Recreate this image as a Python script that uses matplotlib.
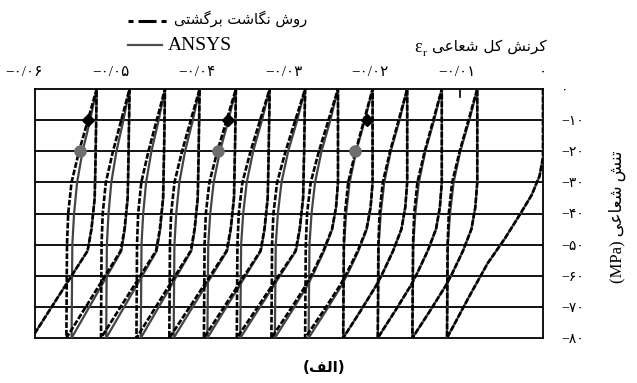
import numpy as np
import matplotlib
matplotlib.use('Agg')
import matplotlib.pyplot as plt
from matplotlib.lines import Line2D

# ---------------- data ----------------
# first loading branch (strain, stress MPa)
first_strain = [0.0, 0.0, -0.0004, -0.0013, -0.0026, -0.0044, -0.0064, -0.0086, -0.0111]
first_stress = [0, -22, -28, -34, -40, -48, -56, -67, -80]

# strain where each unloading branch reaches 0 MPa (top) and each loading branch reaches -80 MPa (bottom)
ansys_top = [-0.0076, -0.0117, -0.0157, -0.0197, -0.0237, -0.0275,
             -0.0316, -0.0355, -0.0397, -0.0437, -0.0478, -0.0516]
ansys_bottom = [-0.0111, -0.0151, -0.0191, -0.0231, -0.0271, -0.0310, -0.0350,
                -0.0388, -0.0427, -0.0465, -0.0505, -0.0545, -0.0591]
rm_top = [-0.0076, -0.0117, -0.0157, -0.0197, -0.0237, -0.0275,
          -0.0316, -0.0355, -0.0397, -0.0437, -0.0478, -0.0516]
rm_bottom = [-0.0111, -0.0151, -0.0191, -0.0231, -0.0275, -0.0314, -0.0354,
             -0.0392, -0.0432, -0.0470, -0.0511, -0.0551, -0.0591]

# branch shapes: stress levels and fraction of the strain step covered
unload_stress = [-80, -50, -40, -30, -20, -10, 0]
unload_frac_ansys = [0, 0.03, 0.10, 0.22, 0.44, 0.74, 1.0]
unload_frac_rm = [0, 0.02, 0.06, 0.17, 0.42, 0.71, 1.0]
load_stress_a = [0, -30, -38, -45, -52, -59, -63, -71, -80]
load_frac_a = [0, 0, 0.03, 0.09, 0.22, 0.38, 0.48, 0.72, 1.0]
load_stress_b = [0, -20, -35, -45, -52, -66, -80]
load_frac_b = [0, 0.015, 0.03, 0.08, 0.14, 0.57, 1.0]
load_shape = ['a', 'a', 'a', 'a', 'a', 'b', 'b', 'b', 'b', 'b', 'b', 'b']

# markers on the return-mapping curve
diamond_strain = [-0.0526, -0.0364, -0.0204]
diamond_stress = [-10, -10, -10]
circle_strain = [-0.0535, -0.0376, -0.0217]
circle_stress = [-20, -20, -20]

x_ticks = [-0.06, -0.05, -0.04, -0.03, -0.02, -0.01, 0.0]
x_tick_text = ['-0/06', '-0/05', '-0/04', '-0/03', '-0/02', '-0/01', '0']
y_ticks = [0, -10, -20, -30, -40, -50, -60, -70, -80]

# ---------------- persian text helpers ----------------
FORMS = {
    'ا': ('\uFE8D', '\uFE8E', None, None),
    'ب': ('\uFE8F', '\uFE90', '\uFE91', '\uFE92'),
    'ت': ('\uFE95', '\uFE96', '\uFE97', '\uFE98'),
    'ر': ('\uFEAD', '\uFEAE', None, None),
    'ش': ('\uFEB5', '\uFEB6', '\uFEB7', '\uFEB8'),
    'ع': ('\uFEC9', '\uFECA', '\uFECB', '\uFECC'),
    'ف': ('\uFED1', '\uFED2', '\uFED3', '\uFED4'),
    'ل': ('\uFEDD', '\uFEDE', '\uFEDF', '\uFEE0'),
    'ن': ('\uFEE5', '\uFEE6', '\uFEE7', '\uFEE8'),
    'و': ('\uFEED', '\uFEEE', None, None),
    'ی': ('\uFBFC', '\uFBFD', '\uFBFE', '\uFBFF'),
    'ک': ('\uFB8E', '\uFB8F', '\uFB90', '\uFB91'),
    'گ': ('\uFB92', '\uFB93', '\uFB94', '\uFB95'),
}


def fa(text):
    # contextual shaping, then reverse for left-to-right drawing
    out = []
    for i, ch in enumerate(text):
        if ch not in FORMS:
            out.append(ch)
            continue
        prev = i > 0 and text[i - 1] in FORMS and FORMS[text[i - 1]][2] is not None
        nxt = i + 1 < len(text) and text[i + 1] in FORMS and FORMS[ch][2] is not None
        if prev and nxt:
            out.append(FORMS[ch][3])
        elif prev:
            out.append(FORMS[ch][1])
        elif nxt:
            out.append(FORMS[ch][2])
        else:
            out.append(FORMS[ch][0])
    return ''.join(out)[::-1]


def fa_num(s):
    return s.translate(str.maketrans('0123456789-', '۰۱۲۳۴۵۶۷۸۹\u2212'))


FA = ['DejaVu Sans']
SERIF = ['Liberation Serif', 'DejaVu Sans']


def build_path(top, bottom, unload_frac):
    xs = list(first_strain)
    ys = list(first_stress)
    for k in range(len(top)):
        b, t = bottom[k], top[k]
        xs += [b + (t - b) * f for f in unload_frac]
        ys += unload_stress
        if load_shape[k] == 'a':
            ls, lf = load_stress_a, load_frac_a
        else:
            ls, lf = load_stress_b, load_frac_b
        nb = bottom[k + 1]
        xs += [t + (nb - t) * f for f in lf]
        ys += ls
    return xs, ys


def main():
    fig = plt.figure(figsize=(6.37, 3.83), dpi=100)
    ax = fig.add_axes([35 / 637, 1 - 338 / 383, 508 / 637, 249 / 383])

    x_lo = (35 - 543) / 8650
    ax.set_xlim(x_lo, 0)
    ax.set_ylim(-80, 0)

    for y in y_ticks[1:-1]:
        ax.axhline(y, color='black', lw=1.3, zorder=1)

    xa, ya = build_path(ansys_top, ansys_bottom, unload_frac_ansys)
    ax.plot(xa, ya, color='#444444', lw=1.6, zorder=3)
    xr, yr = build_path(rm_top, rm_bottom, unload_frac_rm)
    ax.plot(xr, yr, color='black', lw=1.9, ls=(0, (2.2, 0.7)), zorder=4)

    ax.plot(diamond_strain, diamond_stress, 'D', color='black', ms=6, zorder=5)
    ax.plot(circle_strain, circle_stress, 'o', color='#6e6e6e', ms=8, zorder=5)
    ax.plot([-0.0096, -0.0096], [0, -2.5], color='black', lw=1.2)

    for s in ax.spines.values():
        s.set_linewidth(1.3)
    ax.set_xticks([])
    ax.set_yticks(y_ticks)
    ax.set_yticklabels([fa_num(str(v)) for v in y_ticks], family=SERIF, fontsize=10)
    ax.yaxis.tick_right()
    ax.tick_params(axis='y', length=0, pad=13)
    for lab in ax.get_yticklabels():
        lab.set_horizontalalignment('left')

    for v, t in zip(x_ticks, x_tick_text):
        ax.text(v, 1.068, fa_num(t), transform=ax.get_xaxis_transform(),
                ha='center', va='center', family=SERIF, fontsize=11, clip_on=False)

    # axis titles
    fig.text(547 / 637, 1 - 47 / 383, fa('کرنش کل شعاعی'), family=FA, fontsize=11,
             ha='right', va='center')
    fig.text(414 / 637, 1 - 48 / 383, '\u03b5', family=SERIF, fontsize=13, ha='left', va='center')
    fig.text(423 / 637, 1 - 53 / 383, 'r', family=SERIF, fontsize=8, ha='left', va='center')
    fig.text(617 / 637, 1 - 217 / 383, '(MPa) ' + fa('تنش شعاعی'), family=SERIF,
             fontsize=12, rotation=90, ha='center', va='center')

    # legend
    fig.add_artist(Line2D([128 / 637, 167 / 637], [1 - 21 / 383, 1 - 21 / 383],
                          color='black', lw=2.2, ls=(0, (1.64, 1.64, 5.9, 1.64))))
    fig.text(307 / 637, 1 - 19 / 383, fa('روش نگاشت برگشتی'), family=FA, fontsize=10.5,
             ha='right', va='center')
    fig.add_artist(Line2D([128 / 637, 162 / 637], [1 - 45 / 383, 1 - 45 / 383],
                          color='#505050', lw=1.6))
    fig.text(168 / 637, 1 - 46 / 383, 'ANSYS', family=SERIF, fontsize=14,
             ha='left', va='center')

    fig.text(324 / 637, 1 - 367 / 383, '(' + fa('الف') + ')', family=FA, fontsize=11,
             fontweight='bold', ha='center', va='center')

    fig.savefig('out.png', dpi=100)


if __name__ == '__main__':
    main()
